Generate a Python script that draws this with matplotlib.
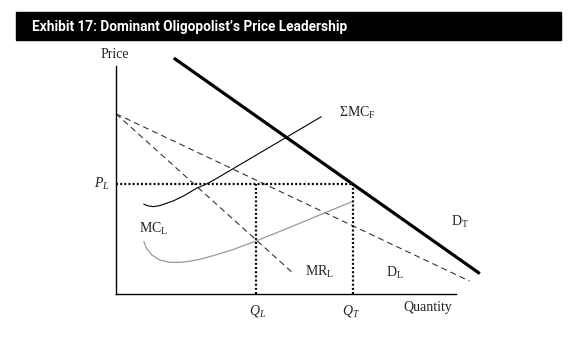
import numpy as np
import matplotlib
matplotlib.use("Agg")
import matplotlib.pyplot as plt
from matplotlib.patches import Rectangle
from matplotlib import font_manager

plt.rcParams['mathtext.fontset'] = 'custom'
plt.rcParams['mathtext.rm'] = 'Liberation Serif'
plt.rcParams['mathtext.it'] = 'Liberation Serif:italic'
plt.rcParams['lines.scale_dashes'] = False

# quantity / price readings (arbitrary units)
q_axis_max = 100
p_axis_max = 67

d_total_q = [17, 107]
d_total_p = [69.4, 6]

d_leader_q = [0, 104]
d_leader_p = [53, 3.8]

mr_leader_q = [0, 52]
mr_leader_p = [53, 6.2]

mc_firms_q = [8.2, 9.5, 11.0, 12.9, 14.9, 16.9, 19.8, 23.7, 26.7, 29.6, 33.5, 50.3, 60.3]
mc_firms_p = [26.4, 25.9, 25.7, 26.0, 26.7, 27.4, 28.8, 31.1, 32.4, 34.0, 36.3, 46.2, 52.1]

mc_leader_q = [8.2, 9.0, 10.5, 12.9, 15.9, 18.8, 21.5, 24.7, 29.0, 34.5, 41.2, 49.2, 61.0, 69.3]
mc_leader_p = [15.4, 13.4, 11.5, 10.0, 9.3, 9.3, 9.6, 10.2, 11.4, 13.1, 15.6, 18.8, 23.7, 27.1]

Q_L = 41.2
Q_T = 69.7
P_L = 32.4

names = {f.name for f in font_manager.fontManager.ttflist}
title_font = 'Liberation Sans Narrow' if 'Liberation Sans Narrow' in names else 'Roboto'

fig = plt.figure(figsize=(5.78, 3.39), dpi=100)

# title bar
fig.patches.append(Rectangle((16/578, 1 - 40/339), 545/578, 28/339,
                             transform=fig.transFigure, color='black', zorder=0))
fig.text(32/578, 1 - 26.5/339, 'Exhibit 17: Dominant Oligopolist\u2019s Price Leadership',
         color='white', fontsize=11 if title_font != 'Roboto' else 9.8,
         fontweight='bold', family=title_font, va='center', ha='left')

ax = fig.add_axes([116/578, 45/339, 340/578, 227.8/339])
ax.set_xlim(0, q_axis_max)
ax.set_ylim(0, p_axis_max)
for s in ['top', 'right']:
    ax.spines[s].set_visible(False)
for s in ['left', 'bottom']:
    ax.spines[s].set_linewidth(1.0)
ax.set_xticks([])
ax.set_yticks([])
ax.patch.set_alpha(0)

dash = (0, (4.3, 2.9))
dot = (0, (1.4, 1.6))

ax.plot(d_total_q, d_total_p, color='black', lw=2.3, clip_on=False, solid_capstyle='butt')
ax.plot(d_leader_q, d_leader_p, color='#333333', lw=0.8, ls=dash, clip_on=False)
ax.plot(mr_leader_q, mr_leader_p, color='#333333', lw=0.8, ls=dash, clip_on=False)
ax.plot(mc_firms_q, mc_firms_p, color='black', lw=0.8, clip_on=False)
ax.plot(mc_leader_q, mc_leader_p, color='#999999', lw=0.9, clip_on=False)

# price leader's price and the quantities
ax.plot([0, Q_T], [P_L, P_L], color='black', lw=1.6, ls=dot, clip_on=False)
ax.plot([Q_L, Q_L], [0, P_L], color='black', lw=1.6, ls=dot, clip_on=False)
ax.plot([Q_T, Q_T], [0, P_L], color='black', lw=1.6, ls=dot, clip_on=False)

lab = dict(fontsize=10, family='Liberation Serif', ha='center', va='center', color='#222222')
ax.text(-0.3, 70.3, 'Price', **lab)
ax.text(91.8, -4.0, 'Quantity', **lab)
ax.text(Q_L + 0.3, -5, '$Q_L$', **lab)
ax.text(Q_T - 0.6, -5, '$Q_T$', **lab)
ax.text(-1.8, P_L, '$P_L$', fontsize=10, ha='right', va='center', color='#222222')
ax.text(10.9, 19.1, r'$\mathrm{MC}_\mathrm{L}$', **lab)
ax.text(60, 6.5, r'$\mathrm{MR}_\mathrm{L}$', **lab)
ax.text(82, 6.2, r'$\mathrm{D}_\mathrm{L}$', **lab)
ax.text(101.2, 21.2, r'$\mathrm{D}_\mathrm{T}$', **lab)
ax.text(70.9, 53.2, r'$\mathrm{\Sigma MC}_\mathrm{F}$', **lab)

fig.savefig('out.png', dpi=100)
